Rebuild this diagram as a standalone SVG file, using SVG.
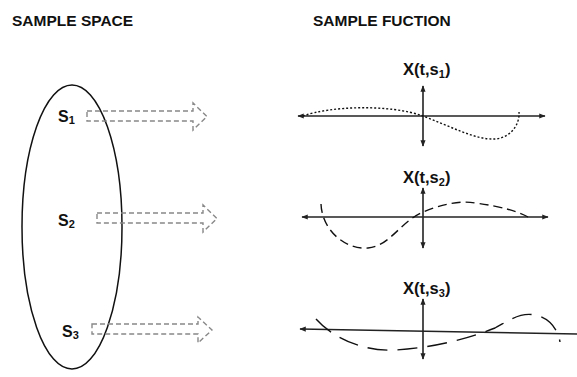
<svg xmlns="http://www.w3.org/2000/svg" width="577" height="377" viewBox="0 0 577 377">
<style>
.title{font-family:"Liberation Sans",Arial,sans-serif;font-weight:bold;font-size:15.5px;fill:#111}
.lbl{font-family:"Liberation Sans",Arial,sans-serif;font-weight:bold;font-size:16px;fill:#111}
.xl{font-family:"Liberation Sans",Arial,sans-serif;font-weight:bold;font-size:16.5px;fill:#111}
.sub{font-size:11px}
.arr{fill:none;stroke:#888;stroke-width:1.4;stroke-dasharray:5,3}
.axis{stroke:#222;stroke-width:1.6;fill:none}
.curve{fill:none;stroke:#111;stroke-width:1.4}
</style>
<defs>
<marker id="ah" viewBox="0 0 10 10" refX="9" refY="5" markerWidth="4" markerHeight="4" orient="auto-start-reverse">
<path d="M0,1 L10,5 L0,9 Z" fill="#222"/>
</marker>
</defs>
<text class="title" x="12" y="26">SAMPLE SPACE</text>
<text class="title" x="313" y="26">SAMPLE FUCTION</text>
<g id="sample-space">
<ellipse cx="72" cy="227" rx="50" ry="142" fill="none" stroke="#111" stroke-width="1.5"/>
</g>
<g id="s1"><text class="lbl" x="58" y="122">S<tspan class="sub" dy="2">1</tspan></text></g>
<g id="s2"><text class="lbl" x="58" y="226">S<tspan class="sub" dy="2">2</tspan></text></g>
<g id="s3"><text class="lbl" x="62" y="337">S<tspan class="sub" dy="2">3</tspan></text></g>
<g id="connectors">
<path class="arr" d="M87,111 L193,111 L193,103 L207,116.5 L193,130 L193,121 L87,121 Z"/>
<path class="arr" d="M97,213 L203,213 L203,205 L217,218.5 L203,232 L203,223 L97,223 Z"/>
<path class="arr" d="M92,324 L198,324 L198,317 L212,330 L198,343 L198,334 L92,334 Z"/>
</g>
<g id="graph1">
<text class="xl" x="403" y="75">X(t,s<tspan class="sub" dy="3">1</tspan><tspan dy="-3">)</tspan></text>
<line class="axis" x1="298" y1="116" x2="545" y2="116" marker-start="url(#ah)" marker-end="url(#ah)"/>
<line class="axis" x1="423" y1="86" x2="423" y2="146" marker-start="url(#ah)" marker-end="url(#ah)"/>
<path class="curve" stroke-dasharray="2,2" d="M303,116 C330,106 390,104 423,116 C450,126 475,140 495,139 C510,138 520,125 519,112"/>
</g>
<g id="graph2">
<text class="xl" x="403" y="183">X(t,s<tspan class="sub" dy="3">2</tspan><tspan dy="-3">)</tspan></text>
<line class="axis" x1="302" y1="217" x2="548" y2="217" marker-start="url(#ah)" marker-end="url(#ah)"/>
<line class="axis" x1="423" y1="188" x2="423" y2="248" marker-start="url(#ah)" marker-end="url(#ah)"/>
<path class="curve" stroke-dasharray="9,5" d="M321,204 C322,230 345,250 368,248 C390,246 400,222 423,212 C440,205 460,200 475,203 C500,206 520,212 528,217"/>
</g>
<g id="graph3">
<text class="xl" x="403" y="294">X(t,s<tspan class="sub" dy="3">3</tspan><tspan dy="-3">)</tspan></text>
<line class="axis" x1="300" y1="329" x2="577" y2="334" marker-start="url(#ah)"/>
<line class="axis" x1="423" y1="299" x2="423" y2="359" marker-start="url(#ah)" marker-end="url(#ah)"/>
<path class="curve" stroke-dasharray="20,10" d="M316,319 C330,335 360,352 395,350 C430,348 465,340 495,328 C510,320 520,312 535,315 C550,318 558,330 560,342"/>
</g>
</svg>
